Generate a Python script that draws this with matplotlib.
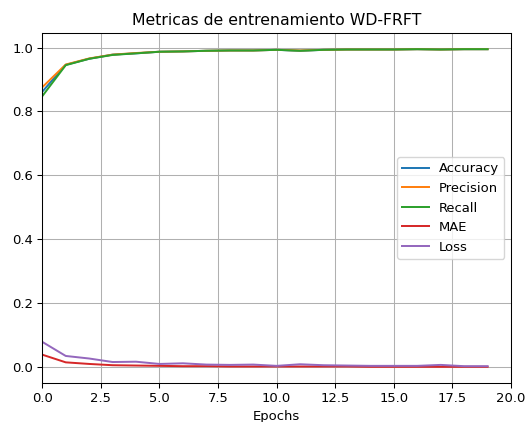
import matplotlib
matplotlib.use("Agg")
import matplotlib.pyplot as plt
import numpy as np

epochs = np.arange(20)
accuracy = [0.862, 0.946, 0.965, 0.978, 0.982, 0.987, 0.988, 0.990, 0.991, 0.991,
            0.993, 0.990, 0.993, 0.994, 0.994, 0.994, 0.995, 0.994, 0.995, 0.995]
precision = [0.876, 0.947, 0.966, 0.978, 0.983, 0.987, 0.988, 0.990, 0.991, 0.991,
             0.993, 0.991, 0.993, 0.994, 0.994, 0.994, 0.995, 0.994, 0.995, 0.995]
recall = [0.848, 0.945, 0.965, 0.977, 0.982, 0.987, 0.988, 0.990, 0.991, 0.991,
          0.993, 0.990, 0.993, 0.994, 0.994, 0.994, 0.995, 0.994, 0.995, 0.995]
mae = [0.039, 0.015, 0.010, 0.006, 0.005, 0.004, 0.003, 0.003, 0.002, 0.002,
       0.002, 0.002, 0.002, 0.002, 0.001, 0.001, 0.001, 0.001, 0.001, 0.001]
loss = [0.079, 0.035, 0.027, 0.016, 0.017, 0.010, 0.012, 0.008, 0.007, 0.008,
        0.004, 0.009, 0.006, 0.005, 0.004, 0.004, 0.004, 0.007, 0.003, 0.003]

s = 0.945  # overall scale of the figure's styling
plt.rcParams["font.size"] = 10 * s
plt.rcParams["axes.titlesize"] = 12 * s
plt.rcParams["lines.linewidth"] = 1.5 * s
plt.rcParams["axes.linewidth"] = 0.8 * s
plt.rcParams["grid.linewidth"] = 0.8 * s
plt.rcParams["xtick.major.width"] = 0.8 * s
plt.rcParams["ytick.major.width"] = 0.8 * s
plt.rcParams["xtick.major.size"] = 3.5 * s
plt.rcParams["ytick.major.size"] = 3.5 * s
plt.rcParams["xtick.major.pad"] = 3.5 * s
plt.rcParams["ytick.major.pad"] = 3.5 * s
plt.rcParams["axes.labelpad"] = 4.0 * s
plt.rcParams["axes.titlepad"] = 6.0 * s

W, H = 528, 422
left, right, top, bottom = 42.3, 511.0, 33.3, 382.7
fig = plt.figure(figsize=(W / 100, H / 100), dpi=100)
ax = fig.add_axes([left / W, 1 - bottom / H, (right - left) / W, (bottom - top) / H])
ax.plot(epochs, accuracy, label="Accuracy")
ax.plot(epochs, precision, label="Precision")
ax.plot(epochs, recall, label="Recall")
ax.plot(epochs, mae, label="MAE")
ax.plot(epochs, loss, label="Loss")
ax.set_xlim(0, 20)
ax.set_title("Metricas de entrenamiento WD-FRFT")
ax.set_xlabel("Epochs")
ax.grid(True)
ax.legend(loc="center right")
fig.savefig("out.png", dpi=100)
